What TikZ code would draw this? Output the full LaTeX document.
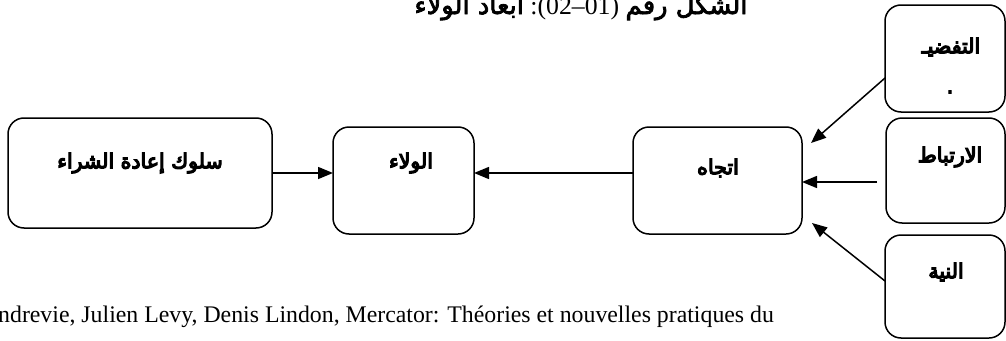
\documentclass[tikz,border=0pt]{standalone}
\usepackage{fontspec}
\setmainfont{Liberation Serif}
\newfontfamily\arabicfont[Script=Arabic, FakeBold=3]{DejaVu Sans}
\newfontfamily\arabicbold[Script=Arabic, FakeBold=6]{DejaVu Sans}
\TeXXeTstate=1
\usetikzlibrary{arrows.meta}
\tikzset{
  box/.style={draw, line width=1.5pt, rounded corners=16pt, inner sep=0pt, outer sep=0pt},
  lbl/.style={inner sep=0pt, font=\arabicbold\fontsize{20.5}{22}\selectfont},
  arr/.style={line width=1.5pt, -{Triangle[length=15pt,width=12pt]}},
}
\begin{document}
\begin{tikzpicture}[x=1pt,y=-1pt]
\useasboundingbox (0,0) rectangle (1006,340);
% boxes
\node[box, minimum width=264pt, minimum height=110pt] (A) at (140,173) {};
\node[box, minimum width=141pt, minimum height=107pt] (B) at (403.5,180.5) {};
\node[box, minimum width=169pt, minimum height=107pt] (C) at (717.5,180.5) {};
\node[box, minimum width=120pt, minimum height=107pt] (R1) at (945,58.5) {};
\node[box, minimum width=119pt, minimum height=105pt] (R2) at (945.5,170.5) {};
\node[box, minimum width=120pt, minimum height=103pt] (R3) at (945,286.5) {};
% labels
\node[lbl] (tA) at (140,163) {\beginR سلوك إعادة الشراء\endR};
\node[lbl] (tB) at (411,163) {\beginR الولاء\endR};
\node[lbl] (tC) at (718,168) {\beginR اتجاه\endR};
\node[lbl] (tR1) at (951,47) {\beginR التفضيـ\endR};
\node[lbl] (tR1b) at (950,92) {.};
\node[lbl] (tR2) at (950,157) {\beginR الارتباط\endR};
\node[lbl] (tR3) at (946,272) {\beginR النية\endR};
% arrows
\coordinate (r2s) at (877,182);
\coordinate (t1) at (811,143);
\coordinate (t3) at (812,223);
\coordinate (s1) at (R1.west |- 0,78);
\coordinate (s3) at (R3.west |- 0,281);
\draw[arr] (A.east) -- (A.east -| B.west);
\draw[arr] (C.west |- A.east) -- (B.east |- A.east);
\draw[arr] (r2s) -- (C.east |- r2s);
\draw[arr] (s1) -- (t1);
\draw[arr] (s3) -- (t3);
% title (clipped at top, as in the source)
\node[anchor=base, inner sep=0pt, font=\fontsize{30}{32}\selectfont] (title) at (581,14)
  {\resizebox{333pt}{!}{{\arabicfont\beginR ابعاد الولاء\endR}\ :(02–01)\ {\arabicfont\beginR الشكل رقم\endR}}};
% source note
\node[anchor=base west, inner sep=0pt, font=\fontsize{23.8}{26}\selectfont] (src) at (-2,322)
  {ndrevie, Julien Levy, Denis Lindon, Mercator: Théories et nouvelles pratiques du};
\end{tikzpicture}
\end{document}
